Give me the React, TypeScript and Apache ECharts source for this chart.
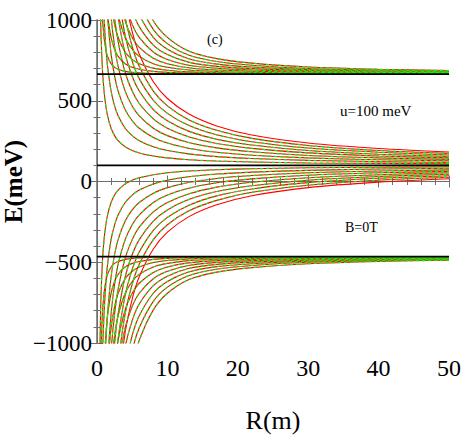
import React, { useEffect, useRef } from "react";
import * as echarts from "echarts";

// Sample radii R (m) shared by all curves
const R_VALUES = [0.3, 0.5, 0.75, 1, 1.25, 1.5, 2, 2.5, 3, 4, 5, 6, 8, 10, 13, 17, 22, 30, 40, 50];

// Asymptotic levels (meV)
const LEVELS = [665, 100, -465];

// Upper band: levels approaching 665 from above
const top1 = [null, 1346, 1031, 892, 819, 775, 729, 707, 695, 682, 676, 673, 669, 668, 667, 666, 666, 665, 665, 665];
const top2 = [null, null, null, 1346, 1153, 1031, 892, 819, 775, 729, 707, 695, 682, 676, 671, 669, 668, 667, 667, 666];
const top3 = [null, null, null, null, null, 1346, 1106, 973, 892, 802, 756, 729, 702, 689, 679, 674, 671, 669, 669, 667];
const top4 = [null, null, null, null, null, null, 1346, 1153, 1031, 892, 819, 775, 729, 707, 690, 681, 676, 672, 670, 669];
const top5 = [null, null, null, null, null, null, null, 1346, 1184, 995, 892, 830, 763, 729, 704, 690, 683, 677, 672, 671];
const top6 = [null, null, null, null, null, null, null, null, 1346, 1106, 973, 892, 802, 756, 720, 701, 690, 681, 676, 673];
const top7 = [null, null, null, null, null, null, null, null, 1513, 1224, 1061, 959, 845, 786, 739, 713, 699, 687, 679, 675];
const top8 = [null, null, null, null, null, null, null, null, null, 1346, 1153, 1031, 892, 819, 760, 727, 709, 693, 684, 679];
const top9 = [null, null, null, null, null, null, null, null, null, 1471, 1248, 1106, 942, 854, 783, 743, 720, 700, 690, 683];
const top10 = [null, null, null, null, null, null, null, null, null, 1598, 1346, 1184, 995, 892, 808, 761, 733, 709, 695, 687];

// Middle band: levels approaching 100 from above
const mid1 = [1633, 1020, 713, 560, 468, 407, 330, 284, 253, 215, 192, 177, 158, 146, 135, 127, 121, 115, 112, 109];
const mid2 = [null, null, 1327, 1020, 836, 713, 560, 468, 407, 330, 284, 253, 215, 192, 171, 154, 142, 131, 123, 118];
const mid3 = [null, null, null, null, 1204, 1020, 790, 652, 560, 445, 376, 330, 273, 238, 206, 181, 163, 146, 135, 128];
const mid4 = [null, null, null, null, null, 1327, 1020, 836, 713, 560, 468, 407, 330, 284, 242, 208, 184, 161, 146, 137];
const mid5 = [null, null, null, null, null, null, 1250, 1020, 867, 675, 560, 483, 388, 330, 277, 235, 205, 177, 158, 146];
const mid6 = [null, null, null, null, null, null, null, 1204, 1020, 790, 652, 560, 445, 376, 312, 262, 226, 192, 169, 155];
const mid7 = [null, null, null, null, null, null, null, 1388, 1173, 905, 744, 637, 503, 422, 348, 289, 246, 207, 181, 164];
const mid8 = [null, null, null, null, null, null, null, null, 1327, 1020, 836, 713, 560, 468, 383, 317, 267, 223, 192, 174];
const mid9 = [null, null, null, null, null, null, null, null, 1480, 1135, 928, 790, 618, 514, 419, 344, 288, 238, 204, 183];

// Middle band: levels approaching 100 from below
const low1 = [-1433, -820, -513, -360, -268, -207, -130, -84, -53, -15, 8, 23, 42, 54, 65, 73, 79, 85, 88, 91];
const low2 = [null, -1740, -1127, -820, -636, -513, -360, -268, -207, -130, -84, -53, -15, 8, 29, 46, 58, 69, 77, 82];
const low3 = [null, null, null, -1280, -1004, -820, -590, -452, -360, -245, -176, -130, -73, -38, -6, 19, 37, 54, 65, 72];
const low4 = [null, null, null, null, -1372, -1127, -820, -636, -513, -360, -268, -207, -130, -84, -42, -8, 16, 39, 54, 63];
const low5 = [null, null, null, null, null, -1433, -1050, -820, -667, -475, -360, -283, -188, -130, -77, -35, -5, 23, 42, 54];
const low6 = [null, null, null, null, null, null, -1280, -1004, -820, -590, -452, -360, -245, -176, -112, -62, -26, 8, 31, 45];
const low7 = [null, null, null, null, null, null, -1510, -1188, -973, -705, -544, -437, -303, -222, -148, -89, -46, -7, 20, 36];
const low8 = [null, null, null, null, null, null, null, -1372, -1127, -820, -636, -513, -360, -268, -183, -117, -67, -23, 8, 26];
const low9 = [null, null, null, null, null, null, null, null, -1280, -935, -728, -590, -418, -314, -219, -144, -88, -38, -4, 17];

// Lower band: levels approaching -465 from below
const bot1 = [null, -1146, -831, -692, -619, -575, -529, -507, -495, -482, -476, -473, -469, -468, -467, -466, -466, -465, -465, -465];
const bot2 = [null, null, null, -1146, -953, -831, -692, -619, -575, -529, -507, -495, -482, -476, -471, -469, -468, -467, -467, -466];
const bot3 = [null, null, null, null, null, -1146, -906, -773, -692, -602, -556, -529, -502, -489, -479, -474, -471, -469, -469, -467];
const bot4 = [null, null, null, null, null, null, -1146, -953, -831, -692, -619, -575, -529, -507, -490, -481, -476, -472, -470, -469];
const bot5 = [null, null, null, null, null, null, null, -1146, -984, -795, -692, -630, -563, -529, -504, -490, -483, -477, -472, -471];
const bot6 = [null, null, null, null, null, null, null, null, -1146, -906, -773, -692, -602, -556, -520, -501, -490, -481, -476, -473];
const bot7 = [null, null, null, null, null, null, null, null, -1313, -1024, -861, -759, -645, -586, -539, -513, -499, -487, -479, -475];
const bot8 = [null, null, null, null, null, null, null, null, null, -1146, -953, -831, -692, -619, -560, -527, -509, -493, -484, -479];
const bot9 = [null, null, null, null, null, null, null, null, null, -1271, -1048, -906, -742, -654, -583, -543, -520, -500, -490, -483];
const bot10 = [null, null, null, null, null, null, null, null, null, -1398, -1146, -984, -795, -692, -608, -561, -533, -509, -495, -487];

// Red (solid) curves: all levels; green (dashed) curves: all but the outermost middle pair
const RED_CURVES = [
  top1, top2, top3, top4, top5, top6, top7, top8, top9, top10,
  mid1, mid2, mid3, mid4, mid5, mid6, mid7, mid8, mid9,
  low1, low2, low3, low4, low5, low6, low7, low8, low9,
  bot1, bot2, bot3, bot4, bot5, bot6, bot7, bot8, bot9, bot10,
];
const GREEN_CURVES = [
  top1, top2, top3, top4, top5, top6, top7, top8, top9, top10,
  mid1, mid2, mid3, mid4, mid5, mid6, mid7, mid8,
  low1, low2, low3, low4, low5, low6, low7, low8,
  bot1, bot2, bot3, bot4, bot5, bot6, bot7, bot8, bot9, bot10,
];

const X_TICKS = [0, 50, 10];
const Y_TICKS = [-1000, 1000, 500];

const SERIF = "'Liberation Serif', 'Times New Roman', 'DejaVu Serif', serif";

function toPairs(vals: (number | null)[]) {
  const out: number[][] = [];
  vals.forEach((v, i) => {
    if (v !== null) out.push([R_VALUES[i], v]);
  });
  return out;
}

export default function App() {
  const ref = useRef<HTMLDivElement>(null);

  useEffect(() => {
    if (!ref.current) return;
    const chart = echarts.init(ref.current, undefined, { renderer: "svg" });

    const axisLine = { show: true, lineStyle: { color: "#6e6e6e", width: 1 } };
    const tickStyle = { color: "#6e6e6e", width: 1 };

    const series: any[] = [];
    RED_CURVES.forEach((c) => {
      series.push({
        type: "line",
        data: toPairs(c),
        symbol: "none",
        smooth: 0.3,
        silent: true,
        z: 2,
        lineStyle: { color: "#ff0000", width: 1.1 },
      });
    });
    GREEN_CURVES.forEach((c) => {
      series.push({
        type: "line",
        data: toPairs(c),
        symbol: "none",
        smooth: 0.3,
        silent: true,
        z: 3,
        lineStyle: { color: "#11ee11", width: 1.2, type: [3, 3] },
      });
    });
    LEVELS.forEach((lv) => {
      series.push({
        type: "line",
        data: [
          [X_TICKS[0], lv],
          [X_TICKS[1], lv],
        ],
        symbol: "none",
        silent: true,
        z: 4,
        lineStyle: { color: "#000000", width: 1.6 },
      });
    });

    chart.setOption({
      animation: false,
      backgroundColor: "#ffffff",
      grid: { left: 97, right: 14, top: 20, bottom: 93, containLabel: false, outerBoundsMode: "none" },
      xAxis: [
        {
          type: "value",
          min: X_TICKS[0],
          max: X_TICKS[1],
          interval: X_TICKS[2],
          position: "bottom",
          axisLine,
          axisTick: { show: true, inside: true, length: 6, lineStyle: tickStyle },
          minorTick: { show: true, splitNumber: 5, length: 3.5, lineStyle: tickStyle },
          splitLine: { show: false },
          axisLabel: { color: "#000", fontFamily: SERIF, fontSize: 24, margin: 13 },
          name: "R(m)",
          nameLocation: "middle",
          nameGap: 64,
          nameMoveOverlap: false,
          nameTextStyle: { color: "#000", fontFamily: SERIF, fontSize: 26 },
        },
        {
          type: "value",
          min: X_TICKS[0],
          max: X_TICKS[1],
          interval: X_TICKS[2],
          position: "top",
          axisLine,
          axisTick: { show: true, inside: true, length: 6, lineStyle: tickStyle },
          minorTick: { show: true, splitNumber: 5, length: 3.5, lineStyle: tickStyle },
          splitLine: { show: false },
          axisLabel: { show: false },
        },
      ],
      yAxis: [
        {
          type: "value",
          min: Y_TICKS[0],
          max: Y_TICKS[1],
          interval: Y_TICKS[2],
          position: "left",
          axisLine: { show: true, lineStyle: { color: "#6e6e6e", width: 1.5 } },
          axisTick: { show: true, inside: true, length: 6, lineStyle: tickStyle },
          minorTick: { show: true, splitNumber: 5, length: 3.5, lineStyle: tickStyle },
          splitLine: { show: false },
          axisLabel: {
            color: "#000",
            fontFamily: SERIF,
            fontSize: 23,
            margin: 5,
            formatter: (v: number) => (v < 0 ? "\u2212" + Math.abs(v) : String(v)),
          },
          name: "E(meV)",
          nameLocation: "middle",
          nameGap: 71,
          nameMoveOverlap: false,
          nameTextStyle: { color: "#000", fontFamily: SERIF, fontSize: 25, fontWeight: "bold" },
        },
        {
          type: "value",
          min: Y_TICKS[0],
          max: Y_TICKS[1],
          interval: Y_TICKS[2],
          position: "right",
          axisLine,
          axisTick: { show: true, inside: true, length: 6, lineStyle: tickStyle },
          minorTick: { show: true, splitNumber: 5, length: 3.5, lineStyle: tickStyle },
          splitLine: { show: false },
          axisLabel: { show: false },
        },
      ],
      graphic: [
        {
          type: "text",
          left: 207,
          top: 32,
          style: { text: "(c)", font: `14px ${SERIF}`, fill: "#000" },
        },
        {
          type: "text",
          left: 340,
          top: 103,
          style: { text: "u=100 meV", font: `15px ${SERIF}`, fill: "#000" },
        },
        {
          type: "text",
          left: 345,
          top: 220,
          style: { text: "B=0T", font: `14px ${SERIF}`, fill: "#000" },
        },
      ],
      series,
    });

    return () => chart.dispose();
  }, []);

  return (
    <div
      ref={ref}
      style={{ position: "fixed", left: 0, top: 0, width: 463, height: 436, background: "#fff" }}
    />
  );
}
